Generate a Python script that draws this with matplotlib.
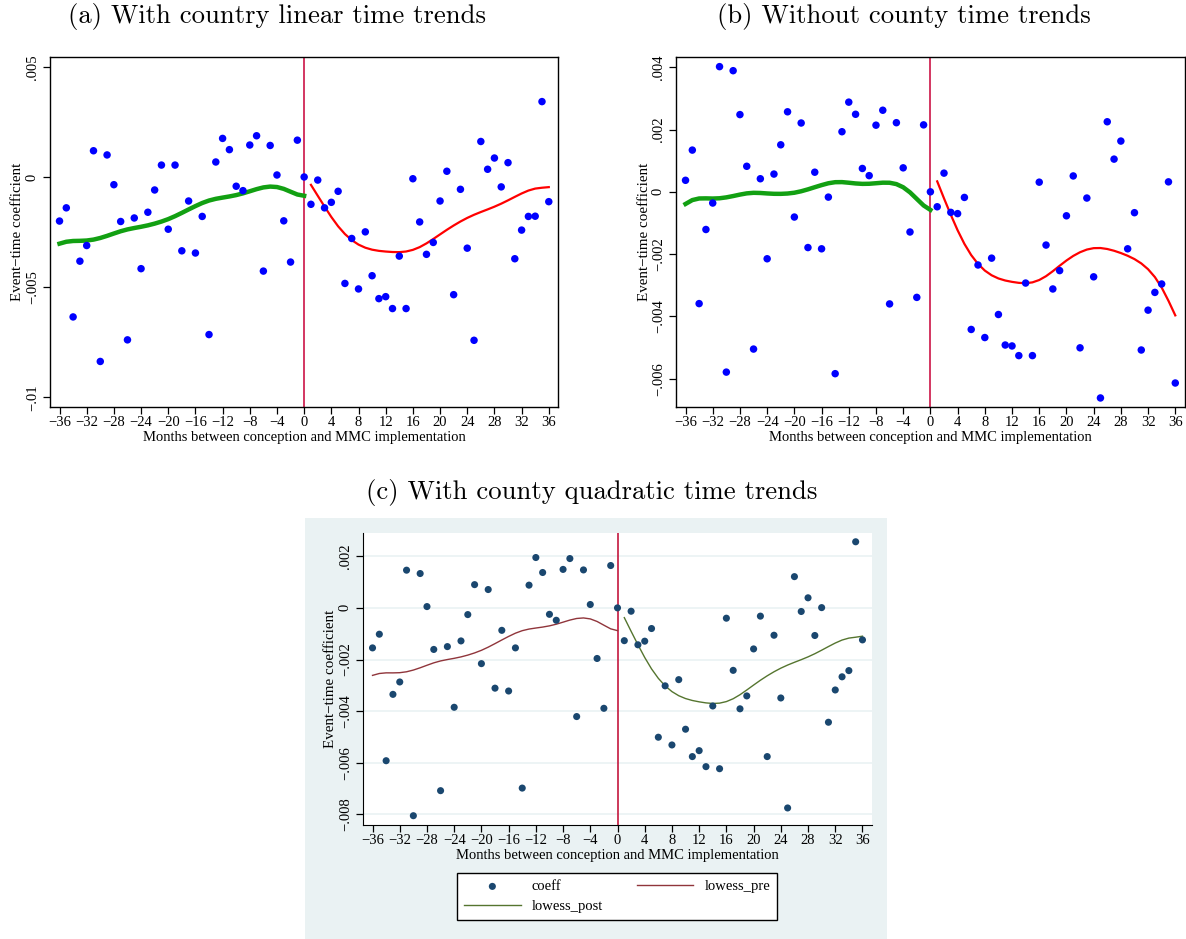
import numpy as np
import matplotlib
matplotlib.use('Agg')
import matplotlib.pyplot as plt
from matplotlib.patches import Rectangle
from matplotlib.ticker import FuncFormatter

plt.rcParams['font.family'] = ['Liberation Serif', 'DejaVu Serif']
plt.rcParams['axes.unicode_minus'] = True

# months relative to MMC implementation
months = np.arange(-36, 37)

# event-time coefficients
coef_a = [-.00200, -.00140, -.00635, -.00382, -.00311, .00119, -.00837, .00100, -.00035, -.00202,
          -.00739, -.00186, -.00416, -.00160, -.00059, .00054, -.00237, .00054, -.00335, -.00109,
          -.00345, -.00179, -.00715, .00068, .00175, .00124, -.00042, -.00062, .00145, .00187,
          -.00427, .00143, .00009, -.00199, -.00386, .00167, 0.0,
          -.00124, -.00014, -.00140, -.00115, -.00065, -.00483, -.00279, -.00508, -.00249, -.00448,
          -.00552, -.00543, -.00597, -.00359, -.00597, -.00008, -.00204, -.00351, -.00297, -.00109,
          .00026, -.00534, -.00056, -.00323, -.00741, .00161, .00035, .00086, -.00045, .00065,
          -.00371, -.00241, -.00179, -.00178, .00342, -.00112]

coef_b = [.00037, .00134, -.00359, -.00121, -.00036, .00402, -.00579, .00389, .00248, .00082,
          -.00505, .00042, -.00215, .00057, .00151, .00257, -.00081, .00221, -.00179, .00063,
          -.00183, -.00017, -.00584, .00193, .00288, .00249, .00075, .00052, .00214, .00262,
          -.00360, .00222, .00077, -.00129, -.00339, .00215, 0.0,
          -.00048, .00060, -.00066, -.00070, -.00018, -.00442, -.00235, -.00468, -.00213, -.00394,
          -.00492, -.00495, -.00526, -.00293, -.00526, .00031, -.00171, -.00312, -.00253, -.00077,
          .00051, -.00501, -.00020, -.00273, -.00662, .00225, .00105, .00163, -.00183, -.00067,
          -.00508, -.00380, -.00323, -.00296, .00032, -.00614]

coef_c = [-.00155, -.00102, -.00592, -.00335, -.00287, .00146, -.00805, .00133, .00005, -.00161,
          -.00708, -.00150, -.00385, -.00128, -.00026, .00090, -.00216, .00071, -.00311, -.00087,
          -.00322, -.00155, -.00698, .00088, .00195, .00137, -.00025, -.00048, .00149, .00191,
          -.00421, .00147, .00013, -.00196, -.00389, .00164, 0.0,
          -.00127, -.00013, -.00143, -.00129, -.00080, -.00501, -.00302, -.00531, -.00278, -.00470,
          -.00576, -.00553, -.00615, -.00380, -.00623, -.00040, -.00242, -.00391, -.00341, -.00159,
          -.00032, -.00576, -.00106, -.00349, -.00775, .00121, -.00014, .00039, -.00107, .00001,
          -.00443, -.00318, -.00267, -.00243, .00256, -.00124]

titles = ['(a) With country linear time trends',
          '(b) Without county time trends',
          '(c) With county quadratic time trends']
xlab = 'Months between conception and MMC implementation'
ylab = 'Event\u2212time coefficient'
yticks_a = [.005, 0, -.005, -.01]
yticks_b = [.004, .002, 0, -.002, -.004, -.006]
yticks_c = [.002, 0, -.002, -.004, -.006, -.008]


def lowess(x, y, bw=0.8):
    # Stata-style running-line lowess with tricube weights
    x = np.asarray(x, float)
    y = np.asarray(y, float)
    n = len(x)
    k = int(np.floor((n * bw - 0.5) / 2))
    out = np.empty(n)
    for i in range(n):
        lo, hi = max(0, i - k), min(n - 1, i + k)
        xs, ys = x[lo:hi + 1], y[lo:hi + 1]
        delta = 1.0001 * max(x[hi] - x[i], x[i] - x[lo])
        w = (1 - (np.abs(xs - x[i]) / delta) ** 3) ** 3
        xm = (w * xs).sum() / w.sum()
        ym = (w * ys).sum() / w.sum()
        b = (w * (xs - xm) * (ys - ym)).sum() / (w * (xs - xm) ** 2).sum()
        out[i] = ym + b * (x[i] - xm)
    return out


def stata_fmt(v, pos=None):
    if abs(v) < 1e-12:
        return '0'
    s = f'{abs(v):.3f}'.rstrip('0').lstrip('0')
    return ('\u2212' if v < 0 else '') + s


def int_fmt(v, pos=None):
    return f'{int(round(v))}'.replace('-', '\u2212')


fig = plt.figure(figsize=(11.86, 9.39), dpi=100)
W, H = 1186, 939


def px_axes(x0, y0, x1, y1):
    return fig.add_axes([x0 / W, 1 - y1 / H, (x1 - x0) / W, (y1 - y0) / H])


# background of panel (c)
fig.add_artist(Rectangle((305 / W, 0), (887 - 305) / W, 1 - 518 / H,
                         transform=fig.transFigure, facecolor='#eaf2f3',
                         edgecolor='none', zorder=-5))

pre = months <= 0
post = months >= 1

ax_a = px_axes(50, 57.3, 558.3, 407.3)
ax_b = px_axes(676, 57.3, 1184.8, 407.3)
ax_c = px_axes(363, 533, 872, 825)

panels = [
    (ax_a, coef_a, yticks_a, (-.01045, .00543), -0.051),
    (ax_b, coef_b, yticks_b, (-.00692, .00432), -0.049),
    (ax_c, coef_c, yticks_c, (-.00841, .0029), -0.052),
]

fs = 10.5
for idx, (ax, coef, yt, ylim, ylab_x) in enumerate(panels):
    coef = np.asarray(coef)
    lw_pre = lowess(months[pre], coef[pre])
    lw_post = lowess(months[post], coef[post])
    if idx < 2:
        ax.axvline(0, color='#cc1447', lw=1.2, zorder=1)
        ax.scatter(months, coef, s=29, color='#0000ff', edgecolors='none', zorder=3)
        ax.plot(months[pre], lw_pre, color='#12a012', lw=3.2, zorder=2)
        ax.plot(months[post], lw_post, color='#ff0000', lw=1.6, zorder=2)
        for sp in ax.spines.values():
            sp.set_linewidth(1.0)
    else:
        ax.set_facecolor('white')
        for v in yt:
            ax.axhline(v, color='#eaf2f3', lw=1.2, zorder=0)
        ax.axvline(0, color='#c4183e', lw=1.2, zorder=1)
        pts = ax.scatter(months, coef, s=26, color='#1a476f', edgecolors='none', zorder=3, label='coeff')
        l_pre, = ax.plot(months[pre], lw_pre, color='#90353b', lw=1.0, zorder=2, label='lowess_pre')
        l_post, = ax.plot(months[post], lw_post, color='#55752f', lw=1.0, zorder=2, label='lowess_post')
        ax.spines['top'].set_visible(False)
        ax.spines['right'].set_visible(False)
    ax.set_xlim(-37.4, 37.4)
    ax.set_ylim(*ylim)
    ax.set_xticks(np.arange(-36, 37, 4))
    ax.set_yticks(yt)
    ax.xaxis.set_major_formatter(FuncFormatter(int_fmt))
    ax.yaxis.set_major_formatter(FuncFormatter(stata_fmt))
    ax.tick_params(axis='both', direction='out', length=5, width=0.9, labelsize=fs, pad=1.5)
    ax.tick_params(axis='y', labelrotation=90, pad=3)
    for lab in ax.get_yticklabels():
        lab.set_va('center')
    ax.set_xlabel(xlab, fontsize=fs, labelpad=1.2)
    ax.set_ylabel(ylab, fontsize=10.8)
    ax.yaxis.set_label_coords(ylab_x, 0.5)

# panel titles in Computer Modern
fig.text(277 / W, 1 - 17 / H, titles[0], fontsize=19.2, family='cmr10', ha='center', va='center')
fig.text(904 / W, 1 - 17 / H, titles[1], fontsize=19.2, family='cmr10', ha='center', va='center')
fig.text(592 / W, 1 - 492 / H, titles[2], fontsize=19.2, family='cmr10', ha='center', va='center')

leg = fig.legend([pts, l_post, l_pre], ['coeff', 'lowess_post', 'lowess_pre'],
                 ncol=2, loc='center', bbox_to_anchor=(617 / W, 1 - 896.5 / H),
                 fontsize=fs, frameon=True, fancybox=False, edgecolor='black',
                 facecolor='white', framealpha=1.0,
                 handlelength=3.9, columnspacing=2.3, borderpad=0.45, labelspacing=0.45,
                 handletextpad=0.75, borderaxespad=0)
leg.get_frame().set_linewidth(1.0)

fig.savefig('out.png', dpi=100, facecolor='white')
